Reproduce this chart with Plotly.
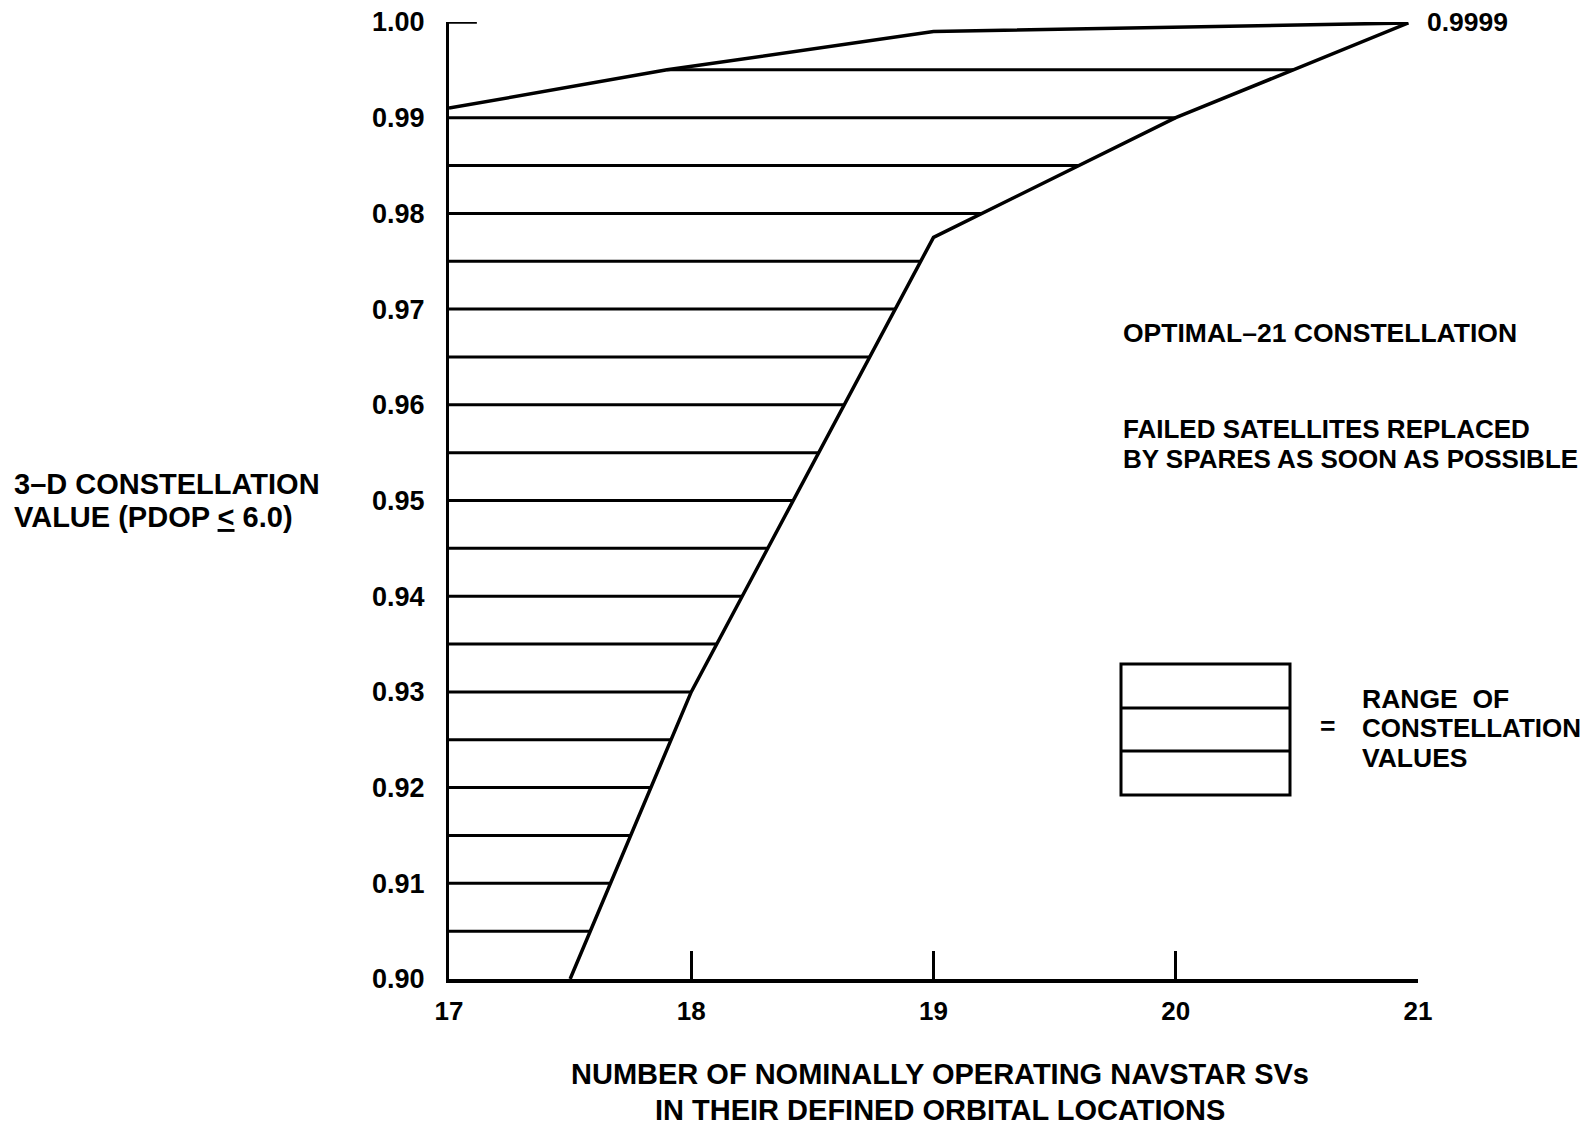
import numpy as np
import plotly.graph_objects as go

# ---- data ----
upper_x = [17.0, 17.9, 19.0, 20.96]
upper_y = [0.991, 0.995, 0.999, 0.9999]
lower_x = [17.5, 18.0, 19.0, 20.0, 20.96]
lower_y = [0.900, 0.930, 0.9775, 0.990, 0.9999]
hatch_levels = [0.905, 0.910, 0.915, 0.920, 0.925, 0.930, 0.935, 0.940, 0.945,
                0.950, 0.955, 0.960, 0.965, 0.970, 0.975, 0.980, 0.985, 0.990, 0.995]
x_ticks = [17, 18, 19, 20, 21]
y_ticks = [0.90, 0.91, 0.92, 0.93, 0.94, 0.95, 0.96, 0.97, 0.98, 0.99, 1.00]
end_label = "0.9999"

W, H = 1588, 1126
L, T = 449, 22
R = W - 1418
B = H - 979
PW, PH = W - L - R, H - T - B
FONT = "Liberation Sans"


def px(x):
    return (x - L) / PW


def py(y):
    return 1 - (y - T) / PH


fig = go.Figure()

# hatch lines: from upper boundary (or axis) to lower boundary
for lv in hatch_levels:
    xs = float(np.interp(lv, upper_y, upper_x))
    xe = float(np.interp(lv, lower_y, lower_x))
    fig.add_trace(go.Scatter(x=[xs, xe], y=[lv, lv], mode="lines",
                             line=dict(color="black", width=3),
                             hoverinfo="skip", showlegend=False, cliponaxis=False))

fig.add_trace(go.Scatter(x=upper_x, y=upper_y, mode="lines",
                         line=dict(color="black", width=3.5),
                         showlegend=False, cliponaxis=False))
fig.add_trace(go.Scatter(x=lower_x, y=lower_y, mode="lines",
                         line=dict(color="black", width=3.5),
                         showlegend=False, cliponaxis=False))

fig.update_layout(
    width=W, height=H,
    margin=dict(l=L, r=R, t=T, b=B, autoexpand=False),
    paper_bgcolor="white", plot_bgcolor="white",
    xaxis=dict(range=[17, 21], tickvals=x_ticks, ticks="inside", ticklen=28,
               tickwidth=3, tickcolor="black", showline=True, linewidth=4,
               linecolor="black", showgrid=False, zeroline=False,
               tickfont=dict(family=FONT, size=26, color="black", weight="bold"),
               ticklabelstandoff=6, ticklabeloverflow="allow"),
    yaxis=dict(range=[0.90, 1.00], tickvals=y_ticks, tickformat=".2f", ticks="",
               showline=True, linewidth=3, linecolor="black", showgrid=False,
               zeroline=False,
               tickfont=dict(family=FONT, size=27, color="black", weight="bold"),
               ticklabelstandoff=16, ticklabeloverflow="allow"),
)

# short stub at the top of the y axis
fig.add_shape(type="line", xref="x", yref="y", x0=17, x1=17.115, y0=1.0, y1=1.0,
              line=dict(color="black", width=3.5))


def note(text, x, y, xanchor="left", size=26.5):
    fig.add_annotation(text=text, xref="paper", yref="paper", x=x, y=y,
                       xanchor=xanchor, yanchor="middle", showarrow=False,
                       font=dict(family=FONT, size=size, color="black", weight="bold"))


fig.add_annotation(text=end_label, xref="x", yref="y", x=upper_x[-1], y=upper_y[-1],
                   xanchor="left", yanchor="middle", xshift=17, yshift=1,
                   showarrow=False,
                   font=dict(family=FONT, size=26.5, color="black", weight="bold"))

note("OPTIMAL–21 CONSTELLATION", px(1121), py(333))
note("FAILED SATELLITES REPLACED", px(1121), py(429), size=26)
note("BY SPARES AS SOON AS POSSIBLE", px(1121), py(459), size=26)

# legend box
bx0, bx1, by0, by1 = px(1121), px(1290), py(664), py(795)
fig.add_shape(type="rect", xref="paper", yref="paper", x0=bx0, x1=bx1, y0=by1, y1=by0,
              line=dict(color="black", width=3))
for yy in (py(708), py(751)):
    fig.add_shape(type="line", xref="paper", yref="paper", x0=bx0, x1=bx1, y0=yy, y1=yy,
                  line=dict(color="black", width=3))
note("=", px(1318), py(726))
note("RANGE\u00a0 OF", px(1360), py(699))
note("CONSTELLATION", px(1360), py(728), size=26)
note("VALUES", px(1360), py(758))

note("3–D CONSTELLATION", px(12), py(484), size=29)
note("VALUE (PDOP <u>&lt;</u> 6.0)", px(12), py(517), size=29)

note("NUMBER OF NOMINALLY OPERATING NAVSTAR SVs", px(940), py(1074),
     xanchor="center", size=29)
note("IN THEIR DEFINED ORBITAL LOCATIONS", px(940), py(1110),
     xanchor="center", size=29)

fig.write_html("out.html",
               config={"displayModeBar": False},
               post_script="document.body.style.margin='0';"
                           "document.body.style.overflow='hidden';")
